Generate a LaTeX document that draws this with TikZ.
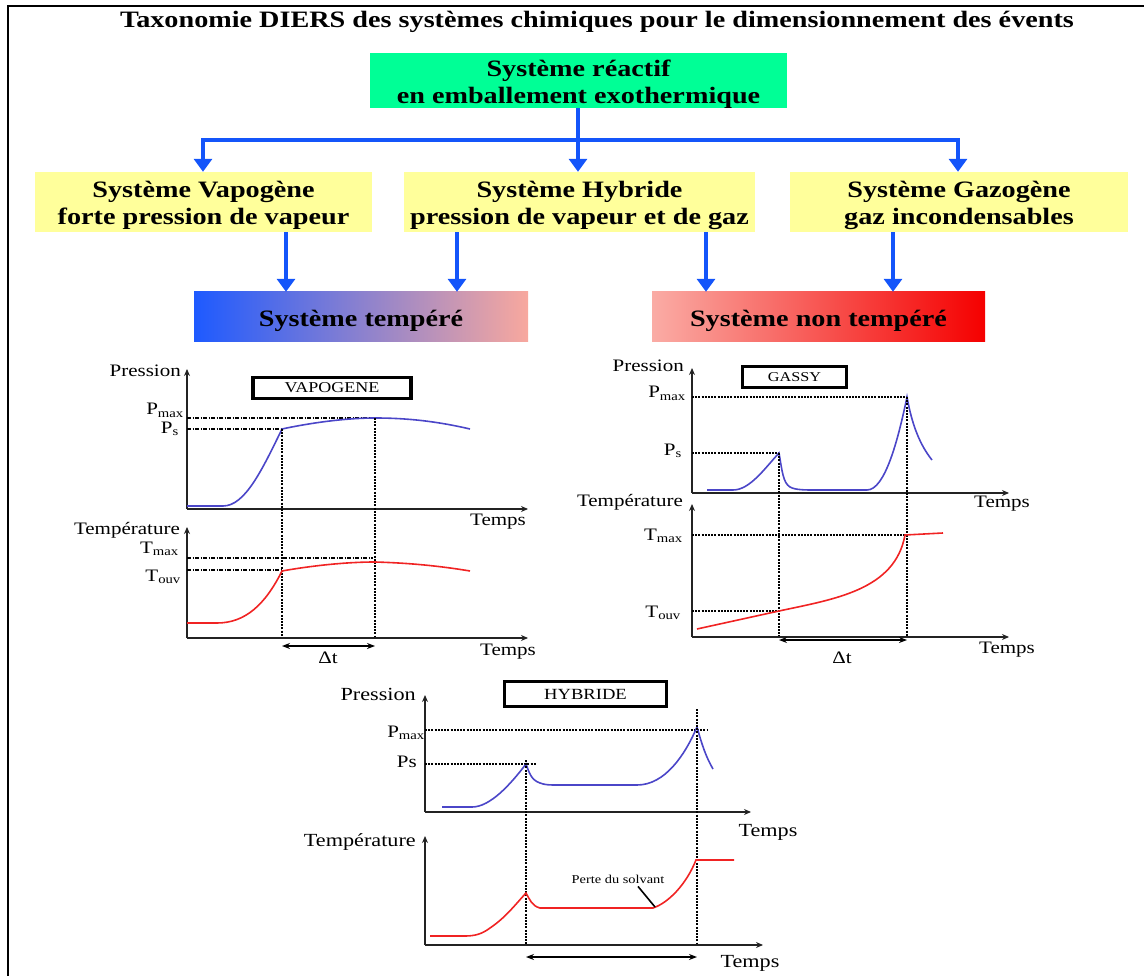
\documentclass[tikz,border=0pt]{standalone}
\usepackage{fontspec}
\setmainfont{Liberation Serif}[FakeStretch=1.2]
\usetikzlibrary{arrows.meta,calc}
\definecolor{bl}{RGB}{20,85,250}
\definecolor{gbox}{RGB}{0,255,150}
\definecolor{ybox}{RGB}{255,255,155}
\definecolor{cblue}{RGB}{75,70,200}
\definecolor{cred}{RGB}{240,35,35}
\definecolor{axc}{RGB}{35,35,35}
\begin{document}
\begin{tikzpicture}[x=1pt,y=-1pt,
  box/.style={inner sep=0pt},
  btxt/.style={inner sep=0pt, font=\fontsize{23.5}{27}\selectfont\bfseries, align=center},
  barrow/.style={draw=bl, line width=4.5pt, -{Triangle[width=18pt,length=13pt]}},
  bline/.style={draw=bl, line width=4.5pt},
  axis/.style={draw=axc, line width=2pt, -{Stealth[length=7pt,width=6pt]}},
  glab/.style={inner sep=0pt, font=\fontsize{17.5}{19}\selectfont},
  tag/.style={draw, line width=3.5pt, inner sep=0pt, font=\fontsize{15}{16}\selectfont},
  dd/.style={draw=black, line width=1.1pt, dash pattern=on 4pt off 1.5pt on 1pt off 1.5pt},
  dt/.style={draw=black, line width=1.1pt, dash pattern=on 2pt off 1.2pt},
  vd/.style={draw=black, line width=1.3pt, dash pattern=on 2pt off 1.2pt},
  cb/.style={draw=cblue, line width=1.6pt},
  cr/.style={draw=cred, line width=1.6pt},
  dta/.style={draw=black, line width=1.6pt, {Stealth[length=8pt,width=6pt]}-{Stealth[length=8pt,width=6pt]}}
]
\useasboundingbox (0,0) rectangle (1144,976);
% frame
\draw[line width=2.5pt] (8,976) -- (8,6) -- (1144,6);

% title
\node[btxt] (title) at (597,22)
  {Taxonomie DIERS des systèmes chimiques pour le dimensionnement des évents};

% boxes
\node[box, fill=gbox, minimum width=417pt, minimum height=55pt] (g) at (578.5,80.5) {};
\node[btxt] (g-txt) at ($(g.center)+(0,3.5)$) {Système réactif\\en emballement exothermique};
\node[box, fill=ybox, minimum width=337pt, minimum height=60pt] (y1) at (203.5,202) {};
\node[btxt] (y1-txt) at ($(y1.center)+(0,3.5)$) {Système Vapogène\\forte pression de vapeur};
\node[box, fill=ybox, minimum width=351pt, minimum height=60pt] (y2) at (579.5,202) {};
\node[btxt] (y2-txt) at ($(y2.center)+(0,3.5)$) {Système Hybride\\pression de vapeur et de gaz};
\node[box, fill=ybox, minimum width=338pt, minimum height=60pt] (y3) at (959,202) {};
\node[btxt] (y3-txt) at ($(y3.center)+(0,3.5)$) {Système Gazogène\\gaz incondensables};
\node[box, minimum width=334pt, minimum height=50pt,
  left color={rgb,255:red,30;green,90;blue,255},
  middle color={rgb,255:red,198;green,140;blue,205},
  right color={rgb,255:red,248;green,168;blue,158}] (t1) at (361,317) {};
\node[btxt] (t1-txt) at ($(t1.center)+(0,4)$) {Système tempéré};
\node[box, minimum width=333pt, minimum height=50pt,
  left color={rgb,255:red,250;green,172;blue,165},
  middle color={rgb,255:red,250;green,105;blue,100},
  right color={rgb,255:red,245;green,0;blue,0}] (t2) at (818.5,317) {};
\node[btxt] (t2-txt) at ($(t2.center)+(0,4)$) {Système non tempéré};

% connectors
\coordinate (j) at (578,140);
\draw[bline] (g.south -| j) -- (j);
\draw[barrow] (j) -| (y1.north -| 203,0);
\draw[barrow] (j) -| (y3.north -| 958,0);
\draw[barrow] (j) -- (y2.north -| j);
\draw[barrow] (y1.south -| 286,0) -- (t1.north -| 286,0);
\draw[barrow] (y2.south -| 457,0) -- (t1.north -| 457,0);
\draw[barrow] (y2.south -| 706,0) -- (t2.north -| 706,0);
\draw[barrow] (y3.south -| 893,0) -- (t2.north -| 893,0);

% ===== Graph 1 : VAPOGENE =====
\draw[axis] (187,509) -- (187,369);
\draw[axis] (187,509) -- (528,509);
\node[glab, anchor=east] (v-p) at (181,371) {Pression};
\node[glab] (v-t1) at (498,522) {Temps};
\node[tag, minimum width=158pt, minimum height=21pt] (v-tag) at (332,388) {VAPOGENE};
\node[glab, anchor=base east] (v-pm) at (184,415) {P\textsubscript{max}};
\node[glab, anchor=base east] (v-ps) at (179,433) {P\textsubscript{s}};
\draw[dd] (187,418) -- (375,418);
\draw[dd] (187,429) -- (282,429);
\draw[cb] (187,506) -- (223,506) .. controls (245,506) and (262,470) .. (282,429)
  .. controls (310,423) and (345,418) .. (375,418) .. controls (410,418) and (440,422) .. (470,429);
\draw[vd] (282,429) -- (282,638);
\draw[vd] (375,418) -- (375,638);
\draw[axis] (187,638) -- (187,527);
\draw[axis] (187,638) -- (528,638);
\node[glab, anchor=east] (v-te) at (180,530) {Température};
\node[glab, anchor=base east] (v-tm) at (179,553) {T\textsubscript{max}};
\node[glab, anchor=base east] (v-to) at (181,581) {T\textsubscript{ouv}};
\draw[dd] (187,558) -- (373,558);
\draw[dd] (187,570) -- (282,570);
\draw[cr] (187,623) -- (217,623) .. controls (245,623) and (265,605) .. (282,571)
  .. controls (310,566) and (345,562) .. (375,562) .. controls (410,563) and (440,566) .. (470,571);
\draw[dta] (282,646) -- (375,646);
\node[glab] (v-dt) at (328,658) {Δt};
\node[glab] (v-t2) at (508,652) {Temps};

% ===== Graph 2 : GASSY =====
\draw[axis] (692,493) -- (692,368);
\draw[axis] (692,493) -- (1009,493);
\node[glab, anchor=east] (g-p) at (684,366) {Pression};
\node[glab] (g-t1) at (1002,504) {Temps};
\node[tag, minimum width=104pt, minimum height=21pt, font=\fontsize{13.5}{15}\selectfont] (g-tag) at (794.5,377) {GASSY};
\node[glab, anchor=base east] (g-pm) at (686,398) {P\textsubscript{max}};
\node[glab, anchor=base east] (g-ps) at (682,455) {P\textsubscript{s}};
\draw[dt] (692,397) -- (907,397);
\draw[dt] (692,453) -- (779,453);
\draw[cb] (707,490) -- (733,490) .. controls (750,490) and (765,468) .. (779,453)
  .. controls (782,470) and (783,483) .. (790,487) .. controls (795,490) and (805,490) .. (815,490)
  -- (867,490) .. controls (885,490) and (898,440) .. (907,397)
  .. controls (912,425) and (920,445) .. (932,460);
\draw[vd] (779,453) -- (779,637);
\draw[vd] (907,397) -- (907,637);
\draw[axis] (692,637) -- (692,504);
\draw[axis] (692,637) -- (1009,637);
\node[glab, anchor=east] (g-te) at (683,502) {Température};
\node[glab, anchor=base east] (g-tm) at (683,540) {T\textsubscript{max}};
\node[glab, anchor=base east] (g-to) at (681,617) {T\textsubscript{ouv}};
\draw[dt] (692,535) -- (905,535);
\draw[dt] (692,611) -- (779,611);
\draw[cr] (697,629) -- (779,611) .. controls (835,599) and (895,590) .. (905,535) -- (943,533);
\draw[dta] (779,640) -- (907,640);
\node[glab] (g-dt) at (842,658) {Δt};
\node[glab] (g-t2) at (1007,650) {Temps};

% ===== Graph 3 : HYBRIDE =====
\draw[axis] (425,812) -- (425,695);
\draw[axis] (425,812) -- (751,812);
\node[glab, font=\fontsize{18.5}{20}\selectfont, anchor=east] (h-p) at (416,694) {Pression};
\node[glab, font=\fontsize{18.5}{20}\selectfont] (h-t1) at (768,832) {Temps};
\node[tag, minimum width=162pt, minimum height=25pt, font=\fontsize{15.5}{17}\selectfont] (h-tag) at (585.5,694) {HYBRIDE};
\node[glab, anchor=base east] (h-pm) at (425,737) {P\textsubscript{max}};
\node[glab, anchor=base east] (h-ps) at (417,767) {Ps};
\draw[dt] (425,730) -- (707,730);
\draw[dt] (425,764) -- (536,764);
\draw[cb] (442,807) -- (472,807) .. controls (490,807) and (510,785) .. (526,764)
  .. controls (529,772) and (531,780) .. (540,783) .. controls (545,785) and (550,785) .. (557,785)
  -- (637,785) .. controls (665,785) and (685,755) .. (697,727)
  .. controls (702,745) and (706,757) .. (713,769);
\draw[vd] (526,760) -- (526,945);
\draw[vd] (697,709) -- (697,945);
\draw[axis] (425,945) -- (425,836);
\draw[axis] (425,945) -- (763,945);
\node[glab, font=\fontsize{18.5}{20}\selectfont, anchor=east] (h-te) at (416,842) {Température};
\draw[cr] (430,936) -- (465,936) .. controls (475,936) and (482,934) .. (490,928)
  .. controls (505,918) and (515,905) .. (526,893)
  .. controls (530,900) and (532,906) .. (540,908) -- (653,908)
  .. controls (668,903) and (686,885) .. (696,860) -- (734,860);
\node[inner sep=0pt, font=\fontsize{12}{14}\selectfont] (h-lab) at (618,879) {Perte du solvant};
\coordinate (h-pc) at (655,907);
\draw[line width=1.6pt] ($(h-lab.south)+(20,3)$) -- (h-pc);
\draw[dta] (526,957) -- (697,957);
\node[glab, font=\fontsize{18.5}{20}\selectfont] (h-t2) at (750,963) {Temps};
\end{tikzpicture}
\end{document}
